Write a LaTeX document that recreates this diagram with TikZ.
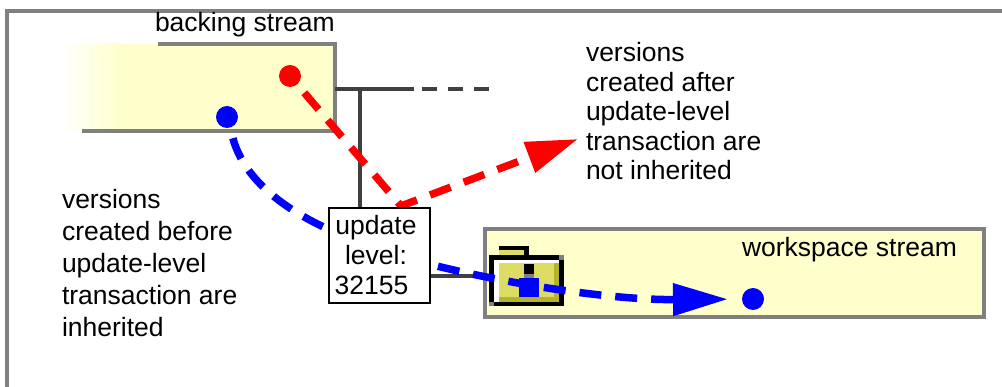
\documentclass[tikz,border=0pt]{standalone}
\usepackage{fontspec}
\setmainfont{Liberation Sans}
\usetikzlibrary{arrows.meta}
\definecolor{framegray}{HTML}{808080}
\definecolor{linegray}{HTML}{404040}
\definecolor{paleyellow}{HTML}{FFFFCC}
\definecolor{folderolive}{HTML}{DDDD66}
\definecolor{folderdark}{HTML}{B4B42C}
\begin{document}
\begin{tikzpicture}[x=1pt,y=-1pt,
  txt/.style={anchor=base west, inner sep=0pt, outer sep=0pt, font=\fontsize{26.5}{32}\selectfont, text=black},
  flow/.style={line width=7.5pt, dash pattern=on 22pt off 14pt},
  dotnode/.style={circle, inner sep=0pt, outer sep=0pt, minimum size=22pt},
  streambox/.style={draw=framegray, line width=4pt, fill=paleyellow, inner sep=0pt, outer sep=0pt},
  linkline/.style={draw=linegray, line width=4pt},
  updbox/.style={draw=black, line width=2pt, fill=white, inner sep=0pt, outer sep=0pt,
    minimum width=101pt, minimum height=95pt, align=center, font=\fontsize{26.5}{30}\selectfont}
]
\useasboundingbox (0,0) rectangle (1002,387);
% outer frame
\draw[framegray, line width=4pt] (7,389) -- (7,11.5) -- (1004,11.5);
% backing stream box (left end fades out)
\shade[left color=white, right color=paleyellow] (62,44) rectangle (118,131);
\fill[paleyellow] (118,44) rectangle (335,131);
\draw[framegray, line width=3.5pt] (158,44) -- (335,44) -- (335,131) -- (82,131);
\node[txt] (bslabel) at (155,32) {backing stream};
% workspace stream box
\node[streambox, minimum width=499pt, minimum height=88pt, anchor=north west] (ws) at (485,229) {};
\node[txt] (wslabel) at (742,257) {workspace stream};
% dots
\node[dotnode, fill=red] (rdot) at (290,76) {};
\node[dotnode, fill=blue] (bdot) at (227,117) {};
\node[dotnode, fill=blue] (wdot) at (753,299) {};
% link coordinates
\coordinate (bsR) at (335,89);
\coordinate (jn) at (360,89);
\coordinate (solidEnd) at (414,89);
\coordinate (dashStart) at (422,89);
\coordinate (dashEnd) at (490,89);
\coordinate (updTop) at (360,208);
\coordinate (updE) at (430,276);
\coordinate (foldW) at (489,276);
\draw[linkline] (bsR) -- (solidEnd);
\draw[linkline, dash pattern=on 15pt off 11pt] (dashStart) -- (dashEnd);
\draw[linkline] (jn) -- (updTop);
\draw[linkline] (updE) -- (foldW);
% folder icon
\fill[black] (499,246) rectangle (529,250);
\fill[black] (524,250) rectangle (529,256);
\fill[folderolive] (499,250) rectangle (524,256);
\fill[black] (489,255) rectangle (564,306);
\fill[white] (494,260) rectangle (559,302);
\fill[folderolive] (499,263) rectangle (559,302);
\fill[folderdark] (554,263) rectangle (559,302);
\fill[folderdark] (499,297) rectangle (559,302);
\fill[framegray] (559,255) rectangle (564,260);
\fill[framegray] (489,302) rectangle (494,306);
\fill[black] (524,264) rectangle (534,274);
\fill[framegray] (524,274) rectangle (534,278);
% flows
\coordinate (bmid) at (445,268);
\coordinate (rturn) at (401,206);
\coordinate (rtip) at (578,139);
\draw[flow, blue, shorten <=11pt, shorten >=14pt, -{Triangle[length=55pt,width=31pt]}]
  (bdot) .. controls (250,200) and (330,240) .. (bmid)
  .. controls (530,288) and (620,300) .. (wdot);
\draw[flow, red, shorten <=11pt, -{Triangle[length=52pt,width=31pt]}]
  (rdot) -- (rturn) -- (rtip);
\fill[blue] (519,278) rectangle (539,297);
% update level box
\node[updbox] (upd) at (379.5,255.5) {update\kern7pt\\level:\kern7pt\\32155\kern16pt};
% texts
\node[txt] (l1) at (62,209) {versions};
\node[txt] (l2) at (62,241) {created before};
\node[txt] (l3) at (62,273) {update-level};
\node[txt] (l4) at (62,305) {transaction are};
\node[txt] (l5) at (62,337) {inherited};
\node[txt] (r1) at (586,62) {versions};
\node[txt] (r2) at (586,91.5) {created after};
\node[txt] (r3) at (586,121) {update-level};
\node[txt] (r4) at (586,150.5) {transaction are};
\node[txt] (r5) at (586,180) {not inherited};
\end{tikzpicture}
\end{document}
